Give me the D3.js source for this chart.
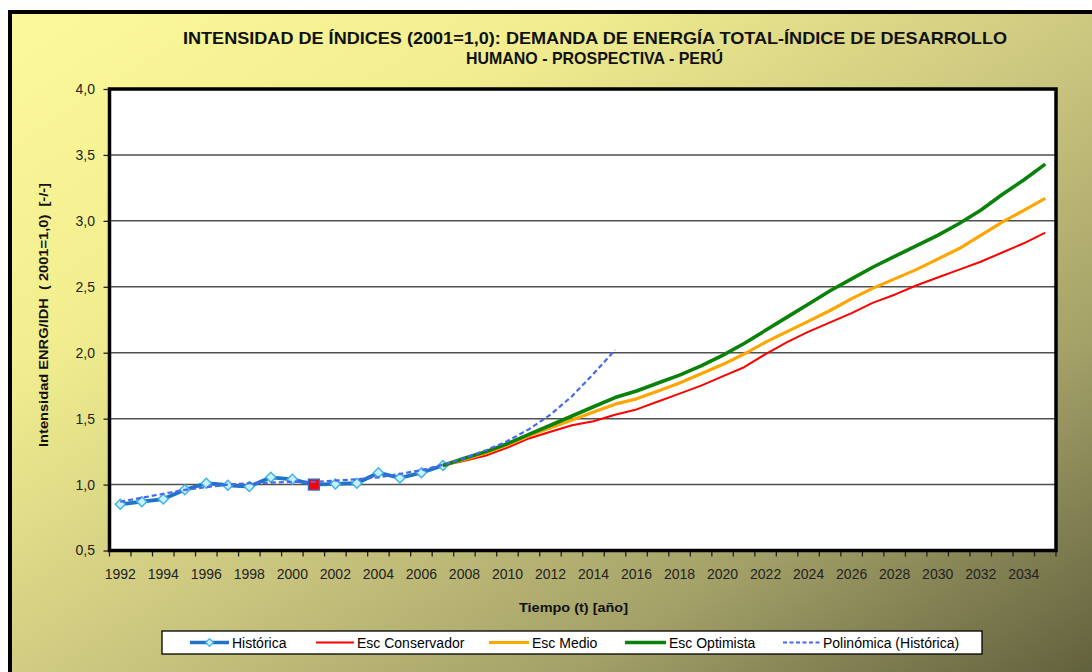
<!DOCTYPE html>
<html>
<head>
<meta charset="utf-8">
<script src="https://cdn.jsdelivr.net/npm/d3@7/dist/d3.min.js"></script>
<style>
  html, body { margin: 0; padding: 0; background: #ffffff; }
  svg { display: block; }
  text { font-family: "Liberation Sans", Arial, sans-serif; }
</style>
</head>
<body>
<svg id="chart" width="1092" height="672"></svg>
<script>
// ---------- DATA ----------
const years = [1992,1993,1994,1995,1996,1997,1998,1999,2000,2001,2002,2003,2004,2005,2006,2007,
  2008,2009,2010,2011,2012,2013,2014,2015,2016,2017,2018,2019,2020,2021,2022,2023,2024,2025,
  2026,2027,2028,2029,2030,2031,2032,2033,2034,2035];
const xTickLabels = [1992,1994,1996,1998,2000,2002,2004,2006,2008,2010,2012,2014,2016,2018,2020,
  2022,2024,2026,2028,2030,2032,2034];
const yTickValues = [0.5,1.0,1.5,2.0,2.5,3.0,3.5,4.0];

const histYears = [1992,1993,1994,1995,1996,1997,1998,1999,2000,2001,2002,2003,2004,2005,2006,2007];
const histValues = [0.85,0.87,0.89,0.96,1.01,0.995,0.985,1.055,1.04,1.00,1.005,1.01,1.09,1.05,1.09,1.145];

const polyYears = [1992,1993,1994,1995,1996,1997,1998,1999,2000,2001,2002,2003,2004,2005,2006,2007,
  2008,2009,2010,2011,2012,2013,2014,2015];
const polyValues = [0.87,0.90,0.93,0.96,0.98,1.00,1.01,1.015,1.02,1.02,1.03,1.04,1.055,1.08,1.11,1.15,
  1.20,1.26,1.33,1.42,1.53,1.67,1.84,2.02];

const scenYears = [2007,2008,2009,2010,2011,2012,2013,2014,2015,2016,2017,2018,2019,2020,2021,2022,
  2023,2024,2025,2026,2027,2028,2029,2030,2031,2032,2033,2034,2035];
const conservador = [1.145,1.18,1.22,1.28,1.35,1.40,1.45,1.48,1.53,1.57,1.63,1.69,1.75,1.82,1.89,1.99,
  2.08,2.16,2.23,2.30,2.38,2.44,2.51,2.57,2.63,2.69,2.76,2.83,2.91];
const medio = [1.145,1.19,1.24,1.30,1.37,1.43,1.49,1.55,1.61,1.65,1.71,1.77,1.84,1.91,1.99,2.08,
  2.16,2.24,2.32,2.41,2.49,2.56,2.63,2.71,2.79,2.89,2.99,3.08,3.17];
const optimista = [1.145,1.20,1.25,1.31,1.38,1.45,1.52,1.59,1.66,1.71,1.77,1.83,1.90,1.98,2.07,2.17,
  2.27,2.37,2.47,2.56,2.65,2.73,2.81,2.89,2.98,3.08,3.20,3.31,3.43];

const refYear = [2001];
const refValue = [1.0];

const seriesNames = ["Histórica","Esc Conservador","Esc Medio","Esc Optimista","Polinómica (Histórica)"];

// ---------- LAYOUT ----------
const svg = d3.select("#chart");
const W = 1092, H = 672;
const plot = { left: 109.5, right: 1056, top: 89, bottom: 550.5 };

const defs = svg.append("defs");
const grad = defs.append("linearGradient").attr("id","bg")
  .attr("x1",0).attr("y1",0).attr("x2",1).attr("y2",1);
[[0,"#fcf99a"],[0.25,"#f2ee8f"],[0.5,"#cdc880"],[0.72,"#a5a269"],[1,"#575737"]].forEach(s=>
  grad.append("stop").attr("offset",s[0]).attr("stop-color",s[1]));

svg.append("rect").attr("x",10).attr("y",12).attr("width",1100).attr("height",700)
  .attr("fill","url(#bg)").attr("stroke","#000").attr("stroke-width",4);

const x = d3.scaleBand().domain(years).range([plot.left, plot.right]).padding(0);
const bw = x.bandwidth();
const xc = yr => x(yr) + bw/2;
const y = d3.scaleLinear().domain([0.5, 4.0]).range([plot.bottom, plot.top]);

// plot area
svg.append("rect").attr("x",plot.left).attr("y",plot.top)
  .attr("width",plot.right-plot.left).attr("height",plot.bottom-plot.top).attr("fill","#fff");

// gridlines
svg.append("g").selectAll("line").data(yTickValues.filter(v=>v>0.5 && v<4.0)).join("line")
  .attr("x1",plot.left).attr("x2",plot.right)
  .attr("y1",d=>y(d)).attr("y2",d=>y(d))
  .attr("stroke","#505050").attr("stroke-width",1.5);

// y axis
const yAxis = svg.append("g").attr("transform",`translate(${plot.left},0)`)
  .call(d3.axisLeft(y).tickValues(yTickValues).tickSize(6).tickPadding(8.5)
    .tickFormat(d=>d.toFixed(1).replace(".",",")));
yAxis.select(".domain").remove();
yAxis.selectAll(".tick line").attr("stroke","#222").attr("stroke-width",1.3);
yAxis.selectAll("text").attr("font-size","14px").attr("fill","#222");

// x axis
const xAxis = svg.append("g").attr("transform",`translate(0,${plot.bottom})`)
  .call(d3.axisBottom(x).tickValues(xTickLabels).tickSize(0).tickPadding(19));
xAxis.select(".domain").remove();
xAxis.selectAll("text").attr("font-size","14px").attr("fill","#222");
// category boundary tick marks
const bounds = years.map(yr=>x(yr)).concat([plot.right]);
svg.append("g").selectAll("line").data(bounds).join("line")
  .attr("x1",d=>d).attr("x2",d=>d).attr("y1",plot.bottom).attr("y2",plot.bottom+6)
  .attr("stroke","#222").attr("stroke-width",1.3);

// plot border
svg.append("rect").attr("x",plot.left).attr("y",plot.top)
  .attr("width",plot.right-plot.left).attr("height",plot.bottom-plot.top)
  .attr("fill","none").attr("stroke","#000").attr("stroke-width",3.5);

// ---------- SERIES ----------
const line = d3.line().x(d=>xc(d[0])).y(d=>y(d[1]));
const zip = (a,b)=>a.map((v,i)=>[v,b[i]]);

const g = svg.append("g");
const histPts = zip(histYears, histValues);
g.append("path").attr("d",line(histPts)).attr("fill","none")
  .attr("stroke","#1f74c8").attr("stroke-width",3.8).attr("stroke-linejoin","round");
g.append("g").selectAll("path").data(histPts.filter(p=>p[0]!==refYear[0])).join("path")
  .attr("d", d3.symbol().type(d3.symbolSquare).size(50))
  .attr("transform",d=>`translate(${xc(d[0])},${y(d[1])}) rotate(45)`)
  .attr("fill","#c8f0ff").attr("stroke","#3db0e6").attr("stroke-width",1.4);
g.append("g").selectAll("rect").data(zip(refYear,refValue)).join("rect")
  .attr("x",d=>xc(d[0])-5.5).attr("y",d=>y(d[1])-5.5).attr("width",11).attr("height",11)
  .attr("fill","#ff0000").attr("stroke","#2a6fc9").attr("stroke-width",1.2);

const scen = [
  {vals: conservador, color:"#ff0000", w:2},
  {vals: medio, color:"#ffa500", w:3.2},
  {vals: optimista, color:"#0a820a", w:3.6}
];
scen.forEach(s=>{
  g.append("path").attr("d",line(zip(scenYears,s.vals))).attr("fill","none")
    .attr("stroke",s.color).attr("stroke-width",s.w).attr("stroke-linejoin","round");
});

g.append("path").attr("d",line(zip(polyYears,polyValues))).attr("fill","none")
  .attr("stroke","#4468f2").attr("stroke-width",2.2).attr("stroke-dasharray","5,3");

// ---------- TEXT ----------
svg.append("text").attr("x",595).attr("y",44).attr("text-anchor","middle")
  .attr("font-size","17px").attr("font-weight","bold").attr("fill","#111")
  .attr("textLength",824).attr("lengthAdjust","spacingAndGlyphs")
  .text("INTENSIDAD DE ÍNDICES (2001=1,0): DEMANDA DE ENERGÍA TOTAL-ÍNDICE DE DESARROLLO");
svg.append("text").attr("x",594.5).attr("y",64).attr("text-anchor","middle")
  .attr("font-size","17px").attr("font-weight","bold").attr("fill","#111")
  .attr("textLength",257).attr("lengthAdjust","spacingAndGlyphs")
  .text("HUMANO - PROSPECTIVA - PERÚ");

svg.append("text").attr("transform","translate(48,315) rotate(-90)").attr("text-anchor","middle")
  .attr("font-size","13px").attr("font-weight","bold").attr("fill","#111")
  .style("white-space","pre")
  .attr("textLength",264).attr("lengthAdjust","spacingAndGlyphs")
  .text("Intensidad ENRG/IDH  ( 2001=1,0)  [-/-]");

svg.append("text").attr("x",573.5).attr("y",612).attr("text-anchor","middle")
  .attr("font-size","13.5px").attr("font-weight","bold").attr("fill","#111")
  .attr("textLength",109).attr("lengthAdjust","spacingAndGlyphs")
  .text("Tiempo (t) [año]");

// ---------- LEGEND ----------
const lg = svg.append("g");
lg.append("rect").attr("x",162).attr("y",631).attr("width",820).attr("height",23)
  .attr("fill","#fff").attr("stroke","#000").attr("stroke-width",1.3);
const legendItems = [
  {name: seriesNames[0], x1:190, x2:229, tx:232, color:"#1f74c8", w:3.5, dash:null, marker:true},
  {name: seriesNames[1], x1:316, x2:354, tx:357, color:"#ff0000", w:2, dash:null},
  {name: seriesNames[2], x1:489, x2:529, tx:532, color:"#ffa500", w:3.2, dash:null},
  {name: seriesNames[3], x1:625, x2:666, tx:669, color:"#0a820a", w:3.6, dash:null},
  {name: seriesNames[4], x1:783, x2:820, tx:823, color:"#4468f2", w:2, dash:"4,2.5"}
];
const ly = 642.5;
legendItems.forEach(it=>{
  lg.append("line").attr("x1",it.x1).attr("x2",it.x2).attr("y1",ly).attr("y2",ly)
    .attr("stroke",it.color).attr("stroke-width",it.w).attr("stroke-dasharray",it.dash);
  if (it.marker) {
    lg.append("path").attr("d", d3.symbol().type(d3.symbolSquare).size(30))
      .attr("transform",`translate(${(it.x1+it.x2)/2},${ly}) rotate(45)`)
      .attr("fill","#c8f0ff").attr("stroke","#3db0e6").attr("stroke-width",1.2);
  }
  lg.append("text").attr("x",it.tx).attr("y",ly+5).attr("font-size","14px").attr("fill","#000")
    .text(it.name);
});
</script>
</body>
</html>
